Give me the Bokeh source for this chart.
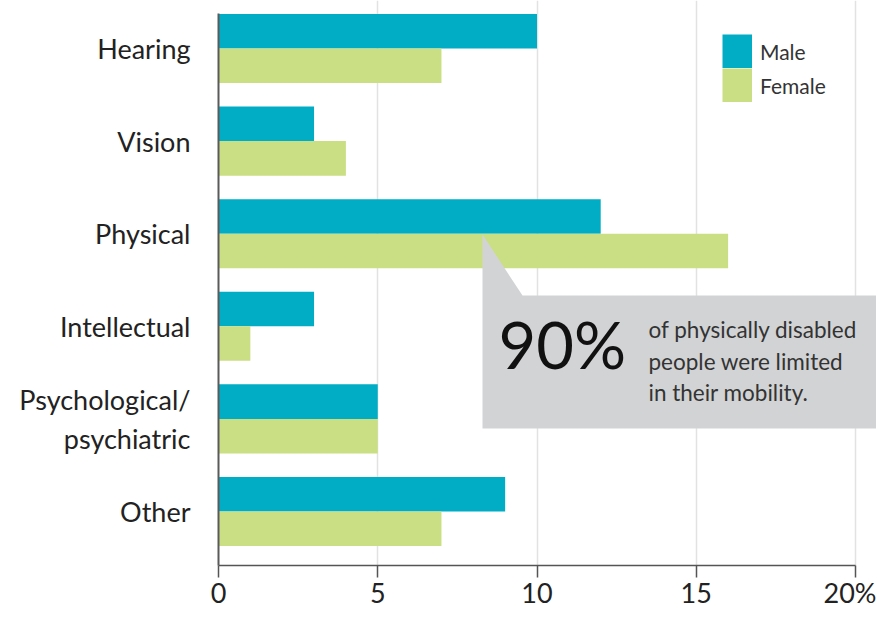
from bokeh.plotting import figure
from bokeh.models import (Range1d, FixedTicker, Legend, LegendItem, ColumnDataSource,
                          PolyAnnotation, Label)
from bokeh.embed import file_html
from bokeh.resources import INLINE

categories = ["Hearing", "Vision", "Physical", "Intellectual", "Psychological/\npsychiatric", "Other"]
male = [10, 3, 12, 3, 5, 9]
female = [7, 4, 16, 1, 5, 7]
x_ticks = [0, 5, 10, 15, 20]
x_tick_labels = ["0", "5", "10", "15", "20%"]
series_names = ["Male", "Female"]
callout_big = "90%"
callout_lines = ["of physically disabled", "people were limited", "in their mobility."]

MALE_C = "#00adc5"
FEMALE_C = "#cadf83"
FONT = "Lato"

n = len(categories)
pos = [n - 1 - i for i in range(n)]
bar_h = 0.373
off = bar_h / 2

W, H = 876, 613
FRAME_LEFT = 218
AXIS_PX = 565

# layout helpers (canvas pixel -> data)
X0_PX, X_SCALE = 218.0, 31.85
Y_TOP_PX, Y_SCALE = 48.0, 92.6
def px2x(px):
    return (px - X0_PX) / X_SCALE
def px2y(py):
    return (n - 1) - (py - Y_TOP_PX) / Y_SCALE

p = figure(width=W, height=H, output_backend="svg", toolbar_location=None,
           x_range=Range1d(0, px2x(W)), y_range=Range1d(px2y(AXIS_PX), px2y(0)),
           min_border_left=FRAME_LEFT, min_border_right=0, min_border_top=0,
           min_border_bottom=H - AXIS_PX)
p.outline_line_color = None
p.background_fill_color = "white"

src = ColumnDataSource(dict(y_m=[v + off for v in pos], y_f=[v - off for v in pos],
                            male=male, female=female))
p.hbar(y="y_m", right="male", left=0, height=bar_h, source=src,
       fill_color=MALE_C, line_color=None)
p.hbar(y="y_f", right="female", left=0, height=bar_h, source=src,
       fill_color=FEMALE_C, line_color=None)

# legend proxies: invisible (NaN) lines, drawn as solid swatches in the legend
SW_H = 34
nan = float("nan")
lm = p.line(x=[nan], y=[nan], line_color=MALE_C, line_width=SW_H, line_cap="butt")
lf = p.line(x=[nan], y=[nan], line_color=FEMALE_C, line_width=SW_H, line_cap="butt")

# x axis
xa = p.xaxis[0]
xa.ticker = FixedTicker(ticks=x_ticks)
xa.major_label_overrides = {t: l for t, l in zip(x_ticks, x_tick_labels)}
xa.bounds = (0, 20)
xa.axis_line_color = "#555555"
xa.axis_line_width = 1.5
xa.major_tick_line_color = "#555555"
xa.major_tick_line_width = 1.5
xa.major_tick_out = 12
xa.major_tick_in = 0
xa.minor_tick_line_color = None
xa.major_label_text_font = FONT
xa.major_label_text_font_size = "27px"
xa.major_label_text_color = "#222222"
xa.major_label_standoff = -2

# y axis
ya = p.yaxis[0]
ya.ticker = FixedTicker(ticks=pos)
ya.major_label_overrides = {v: c for v, c in zip(pos, categories)}
ya.bounds = (px2y(AXIS_PX), (n - 1) + bar_h)
ya.axis_line_color = "#5a5a5a"
ya.axis_line_width = 2
ya.major_tick_line_color = None
ya.minor_tick_line_color = None
ya.major_label_text_font = FONT
ya.major_label_text_font_size = "27px"
ya.major_label_text_color = "#222222"
ya.major_label_standoff = 22

p.ygrid.grid_line_color = None
p.xgrid.ticker = FixedTicker(ticks=x_ticks[1:])
p.xgrid.grid_line_color = "#e2e2e2"
p.xgrid.grid_line_width = 1.5

# callout
callout = PolyAnnotation(
    xs=[px2x(482), px2x(522), px2x(900), px2x(900), px2x(482)],
    ys=[px2y(234), px2y(295), px2y(295), px2y(428), px2y(428)],
    fill_color="#d2d3d5", fill_alpha=1.0, line_color=None, level="overlay")
p.add_layout(callout)
p.add_layout(Label(x=px2x(498), y=px2y(343), text=callout_big, text_font=FONT,
                   text_font_size="65px", text_color="#111111",
                   text_baseline="alphabetic", level="overlay"))
for i, line in enumerate(callout_lines):
    p.add_layout(Label(x=px2x(648), y=px2y(329 + 31.7 * i), text=line, text_font=FONT,
                       text_font_size="22.5px", text_color="#333333",
                       text_baseline="alphabetic", level="overlay"))

legend = Legend(items=[LegendItem(label=series_names[0], renderers=[lm]),
                       LegendItem(label=series_names[1], renderers=[lf])],
                location=(722 - FRAME_LEFT, AXIS_PX - 34 - 2 * SW_H), orientation="vertical",
                glyph_width=30, glyph_height=SW_H, label_height=SW_H, spacing=0,
                padding=0, margin=0, label_standoff=8,
                label_text_font=FONT, label_text_font_size="21px",
                label_text_color="#333333", border_line_color=None,
                background_fill_alpha=0)
p.add_layout(legend)

open("out.html", "w").write(file_html(p, INLINE))
